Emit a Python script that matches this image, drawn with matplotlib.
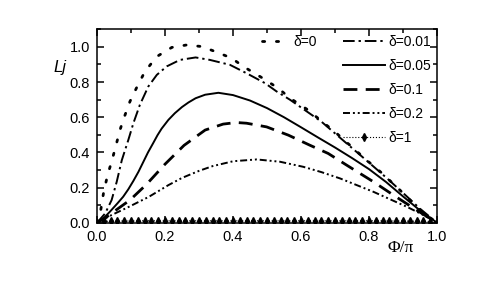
import matplotlib
matplotlib.use("Agg")
import matplotlib.pyplot as plt
from matplotlib.ticker import MultipleLocator

# ---- data ----
x_d0 = [0, 0.01, 0.019, 0.031, 0.043, 0.056, 0.068, 0.08, 0.097, 0.117, 0.141, 0.176, 0.22, 0.264, 0.308,
        0.347, 0.396, 0.43, 0.484, 0.533, 0.568, 0.617, 0.656, 0.705, 0.749, 0.793, 0.837, 0.886, 0.926,
        0.95, 0.975, 1.0]
y_d0 = [0, 0.06, 0.167, 0.271, 0.347, 0.441, 0.53, 0.60, 0.69, 0.77, 0.86, 0.945, 0.997, 1.011, 1.002,
        0.974, 0.936, 0.889, 0.826, 0.765, 0.708, 0.646, 0.585, 0.508, 0.432, 0.356, 0.284, 0.195, 0.119,
        0.072, 0.035, 0]

x_d001 = [0, 0.024, 0.043, 0.058, 0.073, 0.092, 0.107, 0.126, 0.151, 0.176, 0.205, 0.244, 0.29, 0.332,
          0.391, 0.44, 0.494, 0.528, 0.568, 0.617, 0.66, 0.705, 0.75, 0.8, 0.85, 0.9, 0.95, 1.0]
y_d001 = [0, 0.053, 0.129, 0.233, 0.356, 0.47, 0.566, 0.67, 0.775, 0.841, 0.889, 0.926, 0.94, 0.926,
          0.898, 0.85, 0.794, 0.747, 0.699, 0.633, 0.575, 0.50, 0.425, 0.342, 0.258, 0.17, 0.08, 0]

x_d005 = [0, 0.019, 0.038, 0.06, 0.077, 0.092, 0.107, 0.122, 0.136, 0.15, 0.165, 0.178, 0.19, 0.21,
          0.229, 0.25, 0.269, 0.29, 0.318, 0.357, 0.4, 0.45, 0.5, 0.55, 0.6, 0.65, 0.7, 0.75, 0.8,
          0.85, 0.9, 0.95, 1.0]
y_d005 = [0, 0.025, 0.063, 0.11, 0.148, 0.19, 0.238, 0.29, 0.345, 0.40, 0.452, 0.498, 0.535, 0.585,
          0.623, 0.658, 0.684, 0.708, 0.728, 0.739, 0.726, 0.695, 0.652, 0.60, 0.543, 0.485, 0.428,
          0.368, 0.305, 0.232, 0.15, 0.07, 0]

x_d01 = [0, 0.03, 0.063, 0.097, 0.146, 0.2, 0.256, 0.318, 0.371, 0.41, 0.44, 0.499, 0.563, 0.626, 0.68,
         0.734, 0.813, 0.872, 0.94, 1.0]
y_d01 = [0, 0.035, 0.082, 0.129, 0.219, 0.333, 0.44, 0.527, 0.561, 0.570, 0.566, 0.545, 0.498, 0.441,
         0.394, 0.328, 0.233, 0.157, 0.072, 0]

x_d02 = [0, 0.043, 0.09, 0.153, 0.21, 0.25, 0.3, 0.34, 0.401, 0.47, 0.538, 0.607, 0.66, 0.715, 0.813,
         0.911, 0.96, 1.0]
y_d02 = [0, 0.044, 0.087, 0.148, 0.214, 0.255, 0.295, 0.322, 0.35, 0.36, 0.347, 0.318, 0.288, 0.252,
         0.176, 0.091, 0.044, 0]

x_d1 = [0.02, 0.04, 0.06, 0.08, 0.10, 0.12, 0.14, 0.16, 0.18, 0.20, 0.22, 0.24, 0.26, 0.28, 0.30,
        0.32, 0.34, 0.36, 0.38, 0.40, 0.42, 0.44, 0.46, 0.48, 0.50, 0.52, 0.54, 0.56, 0.58, 0.60,
        0.62, 0.64, 0.66, 0.68, 0.70, 0.72, 0.74, 0.76, 0.78, 0.80, 0.82, 0.84, 0.86, 0.88, 0.90,
        0.92, 0.94, 0.96, 0.98]
y_d1 = [0.008, 0.009, 0.010, 0.010, 0.010, 0.011, 0.011, 0.011, 0.011, 0.011, 0.011, 0.011, 0.011,
        0.011, 0.011, 0.011, 0.011, 0.011, 0.011, 0.011, 0.011, 0.011, 0.011, 0.011, 0.011, 0.011,
        0.011, 0.011, 0.011, 0.011, 0.011, 0.011, 0.011, 0.011, 0.011, 0.011, 0.011, 0.011, 0.011,
        0.011, 0.011, 0.011, 0.010, 0.010, 0.010, 0.009, 0.009, 0.008, 0.007]

labels = ["δ=0", "δ=0.01", "δ=0.05", "δ=0.1", "δ=0.2", "δ=1"]

plt.rcParams['font.family'] = ['Liberation Sans', 'DejaVu Sans']

fig = plt.figure(figsize=(4.85, 2.99), dpi=100)
ax = fig.add_axes([0.2, 0.255, 0.701, 0.647])

l0, = ax.plot(x_d0, y_d0, color='k', lw=2.0, dashes=(0.8, 4.2), dash_capstyle='round')
l1, = ax.plot(x_d001, y_d001, color='k', lw=1.4, dashes=(6, 2, 1.2, 2))
l2, = ax.plot(x_d005, y_d005, color='k', lw=1.4)
l3, = ax.plot(x_d01, y_d01, color='k', lw=2.0, dashes=(5, 3))
l4, = ax.plot(x_d02, y_d02, color='k', lw=1.4, dashes=(3.6, 1.5, 1, 1.5, 1, 1.5))
l5, = ax.plot(x_d1, y_d1, color='k', lw=0.8, ls=':', marker='d', ms=4, mec='k', mfc='k')

ax.set_xlim(0, 1.0)
ax.set_ylim(0, 1.1)
ax.xaxis.set_major_locator(MultipleLocator(0.2))
ax.xaxis.set_minor_locator(MultipleLocator(0.1))
ax.yaxis.set_major_locator(MultipleLocator(0.2))
ax.yaxis.set_minor_locator(MultipleLocator(0.1))
ax.xaxis.set_major_formatter(lambda v, p: f"{v:.1f}")
ax.yaxis.set_major_formatter(lambda v, p: f"{v:.1f}")
ax.tick_params(which='both', direction='in', top=True, right=True, width=1.1, labelsize=10.5, pad=5)
ax.tick_params(which='major', length=5)
ax.tick_params(which='minor', length=2.8)
for s in ax.spines.values():
    s.set_linewidth(1.1)

ax.set_ylabel("Lj", rotation=0, fontsize=12, style='italic', ha='center', va='center')
ax.yaxis.set_label_coords(-0.109, 0.805)
ax.set_xlabel("Φ/π", fontsize=12.5, family='Liberation Serif', ha='center', va='center')
ax.xaxis.set_label_coords(0.894, -0.131)

leg1 = ax.legend([l1, l2, l3, l4, l5], labels[1:], loc='upper right', bbox_to_anchor=(1.0, 1.0),
                 frameon=False, fontsize=10, handlelength=3.0, handletextpad=0.3, labelspacing=0.72,
                 numpoints=1, borderaxespad=0)
ax.add_artist(leg1)
ax.legend([l0], labels[:1], loc='upper left', bbox_to_anchor=(0.47, 1.0), frameon=False, fontsize=10,
          handlelength=1.6, handletextpad=0.6, borderaxespad=0)

fig.savefig("out.png", dpi=100)
